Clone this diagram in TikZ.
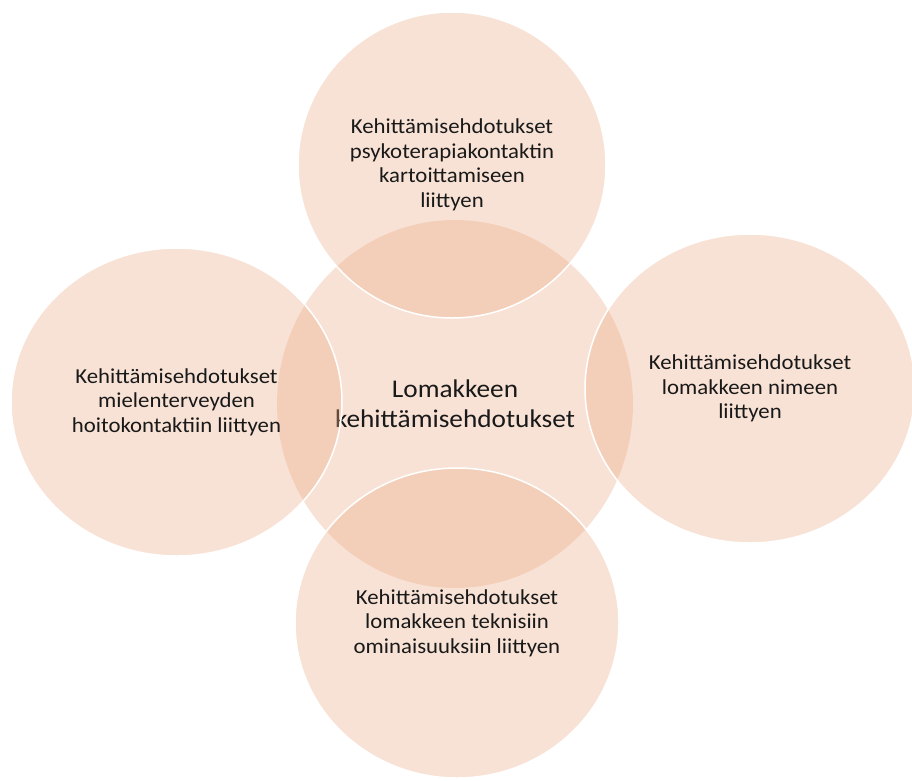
\documentclass[tikz,border=0pt]{standalone}
\usepackage{fontspec}
\setmainfont{Carlito}[FakeStretch=1.07]
\usepackage{tikz}
\usetikzlibrary{shapes.geometric}
\definecolor{petal}{RGB}{235,172,135}

\begin{document}
\begin{tikzpicture}[x=1pt,y=-1pt,
	bubble/.style={ellipse, inner sep=0pt, fill=petal, fill opacity=0.35, text opacity=1, align=center, text=black!90},
	outer/.style={bubble, draw=white, line width=1.5pt, font=\fontsize{21.3}{24.5}\selectfont},
	hubtext/.style={bubble, font=\fontsize{25.5}{30}\selectfont}]
	\useasboundingbox (0,0) rectangle (912,780);
	
	% centre
	\node[hubtext, minimum width=356pt, minimum height=368pt] (hub) at (455,404) {Lomakkeen\\kehittämisehdotukset};
	
	% surrounding suggestions
	\node[outer, minimum width=308pt, minimum height=306pt] (psyko) at (452,165) {Kehittämisehdotukset\\psykoterapiakontaktin\\kartoittamiseen\\liittyen};
	\node[outer, minimum width=330pt, minimum height=309pt] (nimi) at (750,388.5) {Kehittämisehdotukset\\lomakkeen nimeen\\liittyen};
	\node[outer, minimum width=324pt, minimum height=310pt] (tekn) at (457,623) {Kehittämisehdotukset\\lomakkeen teknisiin\\ominaisuuksiin liittyen};
	\node[outer, minimum width=331pt, minimum height=308pt] (hoito) at (176.5,402) {Kehittämisehdotukset\\mielenterveyden\\hoitokontaktiin liittyen};
\end{tikzpicture}
\end{document}
